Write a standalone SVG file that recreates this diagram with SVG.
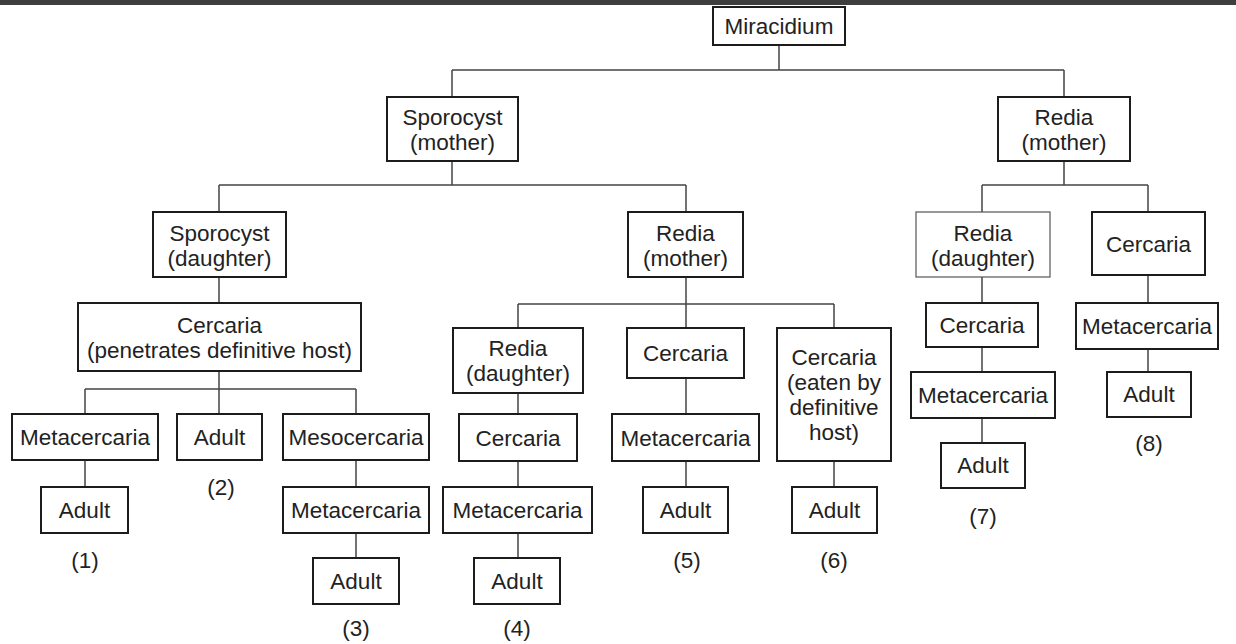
<svg xmlns="http://www.w3.org/2000/svg" width="1236" height="644" viewBox="0 0 1236 644">
<style>
.b{fill:#fff;stroke:#1c1c1c;stroke-width:2}
.bt{fill:#fff;stroke:#555;stroke-width:1.2}
text{font-family:"Liberation Sans",Arial,sans-serif;font-size:22.5px;fill:#222;text-anchor:middle}
.c{fill:none;stroke:#444;stroke-width:1.5}
</style>
<rect x="0" y="0" width="1236" height="644" fill="#fff"/>
<rect x="0" y="0" width="1236" height="5" fill="#3e3e3e"/>
<g id="connectors">
<path class="c" d="M779 45V70M452 70H1064M452 70V97M1064 70V97"/>
<path class="c" d="M452 161V185M219 185H686M219 185V212M686 185V212"/>
<path class="c" d="M1064 161V185M982 185H1148M982 185V212M1148 185V212"/>
<path class="c" d="M219 277V303M219 371V389M85 389H356M85 389V414M219 389V414M356 389V414"/>
<path class="c" d="M85 460V487M356 460V487M356 533V558"/>
<path class="c" d="M686 277V304M518 304H834M518 304V328M686 304V328M834 304V328"/>
<path class="c" d="M518 393V414M518 461V487M518 533V558M686 378V414M686 461V487M834 461V487"/>
<path class="c" d="M982 277V303M982 347V372M982 418V443M1148 275V303M1148 349V372"/>
</g>
<g id="miracidium"><rect class="b" x="713" y="7" width="132" height="38"/><text x="779" y="34">Miracidium</text></g>
<g id="sporocyst-mother"><rect class="b" x="387" y="97" width="131" height="64"/><text x="452.5" y="125">Sporocyst</text><text x="452.5" y="150">(mother)</text></g>
<g id="redia-mother-r"><rect class="b" x="998" y="97" width="132" height="64"/><text x="1064" y="125">Redia</text><text x="1064" y="150">(mother)</text></g>
<g id="sporocyst-daughter"><rect class="b" x="153" y="212" width="133" height="65"/><text x="219.5" y="241">Sporocyst</text><text x="219.5" y="266">(daughter)</text></g>
<g id="redia-mother-m"><rect class="b" x="628" y="212" width="115" height="65"/><text x="685.5" y="241">Redia</text><text x="685.5" y="266">(mother)</text></g>
<g id="redia-daughter-r"><rect class="bt" x="916" y="212" width="134" height="65"/><text x="983" y="241">Redia</text><text x="983" y="266">(daughter)</text></g>
<g id="cercaria-r"><rect class="b" x="1092" y="212" width="113" height="63"/><text x="1148.5" y="252">Cercaria</text></g>
<g id="cercaria-pen"><rect class="b" x="78" y="303" width="283" height="68"/><text x="219.5" y="333">Cercaria</text><text x="219.5" y="358">(penetrates definitive host)</text></g>
<g id="meta1"><rect class="b" x="12" y="414" width="146" height="46"/><text x="85" y="445">Metacercaria</text></g>
<g id="adult2"><rect class="b" x="177" y="414" width="85" height="46"/><text x="219.5" y="445">Adult</text></g>
<g id="meso3"><rect class="b" x="283" y="414" width="146" height="46"/><text x="356" y="445">Mesocercaria</text></g>
<g id="adult1"><rect class="b" x="41" y="487" width="87" height="46"/><text x="84.5" y="518">Adult</text></g>
<g id="meta3"><rect class="b" x="283" y="487" width="146" height="46"/><text x="356" y="518">Metacercaria</text></g>
<g id="adult3"><rect class="b" x="313" y="558" width="86" height="46"/><text x="356" y="589">Adult</text></g>
<g id="redia-daughter-m"><rect class="b" x="453" y="328" width="130" height="65"/><text x="518" y="356">Redia</text><text x="518" y="381">(daughter)</text></g>
<g id="cercaria-m"><rect class="b" x="627" y="328" width="117" height="50"/><text x="685.5" y="361">Cercaria</text></g>
<g id="cercaria-eaten"><rect class="b" x="777" y="328" width="114" height="133"/><text x="834" y="365">Cercaria</text><text x="834" y="390">(eaten by</text><text x="834" y="415">definitive</text><text x="834" y="440">host)</text></g>
<g id="cercaria4"><rect class="b" x="459" y="414" width="118" height="47"/><text x="518" y="446">Cercaria</text></g>
<g id="meta4"><rect class="b" x="443" y="487" width="149" height="46"/><text x="517.5" y="518">Metacercaria</text></g>
<g id="adult4"><rect class="b" x="474" y="558" width="86" height="46"/><text x="517" y="589">Adult</text></g>
<g id="meta5"><rect class="b" x="612" y="414" width="147" height="47"/><text x="685.5" y="446">Metacercaria</text></g>
<g id="adult5"><rect class="b" x="643" y="487" width="85" height="46"/><text x="685.5" y="518">Adult</text></g>
<g id="adult6"><rect class="b" x="792" y="487" width="85" height="46"/><text x="834.5" y="518">Adult</text></g>
<g id="cercaria7"><rect class="b" x="926" y="303" width="112" height="44"/><text x="982" y="333">Cercaria</text></g>
<g id="meta7"><rect class="b" x="911" y="372" width="144" height="46"/><text x="983" y="403">Metacercaria</text></g>
<g id="adult7"><rect class="b" x="941" y="443" width="84" height="45"/><text x="983" y="473">Adult</text></g>
<g id="meta8"><rect class="b" x="1076" y="303" width="142" height="46"/><text x="1147" y="334">Metacercaria</text></g>
<g id="adult8"><rect class="b" x="1107" y="372" width="84" height="45"/><text x="1149" y="402">Adult</text></g>
<g id="labels">
<text x="85" y="568">(1)</text>
<text x="221" y="495">(2)</text>
<text x="356" y="636">(3)</text>
<text x="517" y="636">(4)</text>
<text x="687" y="568">(5)</text>
<text x="834" y="568">(6)</text>
<text x="983" y="524">(7)</text>
<text x="1149" y="451">(8)</text>
</g>
</svg>
